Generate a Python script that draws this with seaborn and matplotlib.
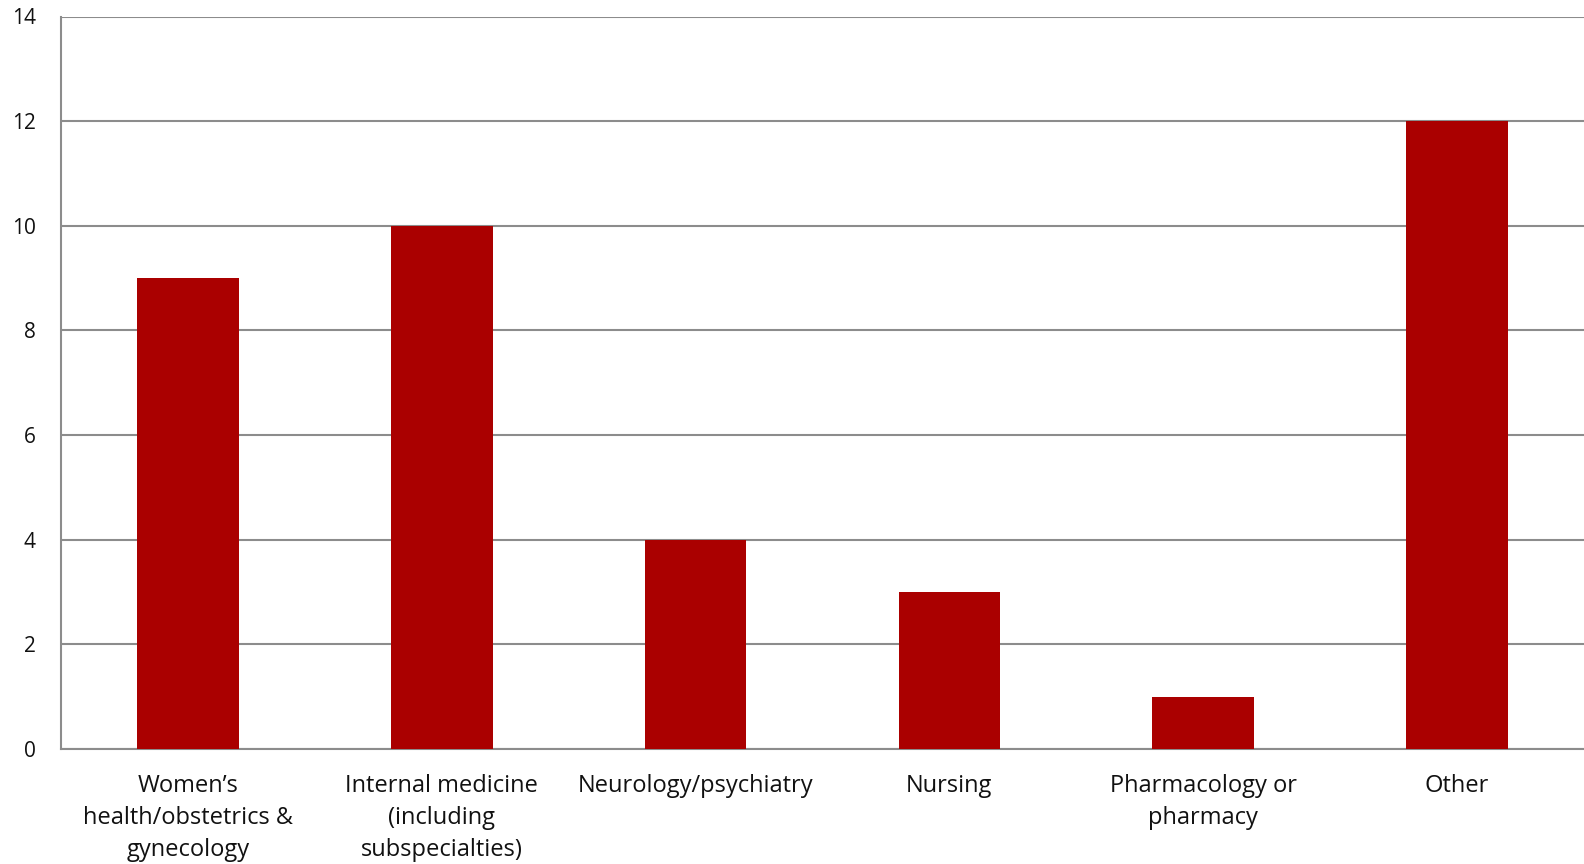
import matplotlib
matplotlib.use("Agg")
import matplotlib.pyplot as plt
import seaborn as sns
import pandas as pd

categories = [
    "Women\u2019s\nhealth/obstetrics &\ngynecology",
    "Internal medicine\n(including\nsubspecialties)",
    "Neurology/psychiatry",
    "Nursing",
    "Pharmacology or\npharmacy",
    "Other",
]
counts = [9, 10, 4, 3, 1, 12]
y_ticks = [0, 2, 4, 6, 8, 10, 12, 14]

sns.set_theme(style="white")
plt.rcParams["font.family"] = ["Open Sans", "DejaVu Sans"]

df = pd.DataFrame({"category": categories, "count": counts})

fig = plt.figure(figsize=(15.84, 8.64), dpi=100)
ax = fig.add_axes([61 / 1584, 1 - 749 / 864, 1 - 61 / 1584, (749 - 16.5) / 864])

sns.barplot(data=df, x="category", y="count", color="#AA0000", width=0.4,
            saturation=1, ax=ax, zorder=3)
for p in ax.patches:
    p.set_edgecolor("none")

ax.set_ylim(0, 14)
ax.set_xlim(-0.5, 5.5)
ax.set_yticks(y_ticks)
ax.set_yticklabels([str(v) for v in y_ticks], fontsize=15, color="#111111")
ax.yaxis.grid(True, color="#8c8c8c", linewidth=1.5, zorder=0)
ax.set_axisbelow(True)
ax.tick_params(axis="y", length=0, pad=18)
ax.tick_params(axis="x", length=0, pad=18)
for lbl in ax.get_xticklabels():
    lbl.set_fontsize(17)
    lbl.set_color("#111111")
    lbl.set_linespacing(1.45)
    lbl.set_verticalalignment("top")

ax.set_xlabel("")
ax.set_ylabel("")
for side in ["top", "right"]:
    ax.spines[side].set_visible(False)
for side in ["left", "bottom"]:
    ax.spines[side].set_color("#8c8c8c")
    ax.spines[side].set_linewidth(1.5)

fig.savefig("out.png", dpi=100, facecolor="white")
